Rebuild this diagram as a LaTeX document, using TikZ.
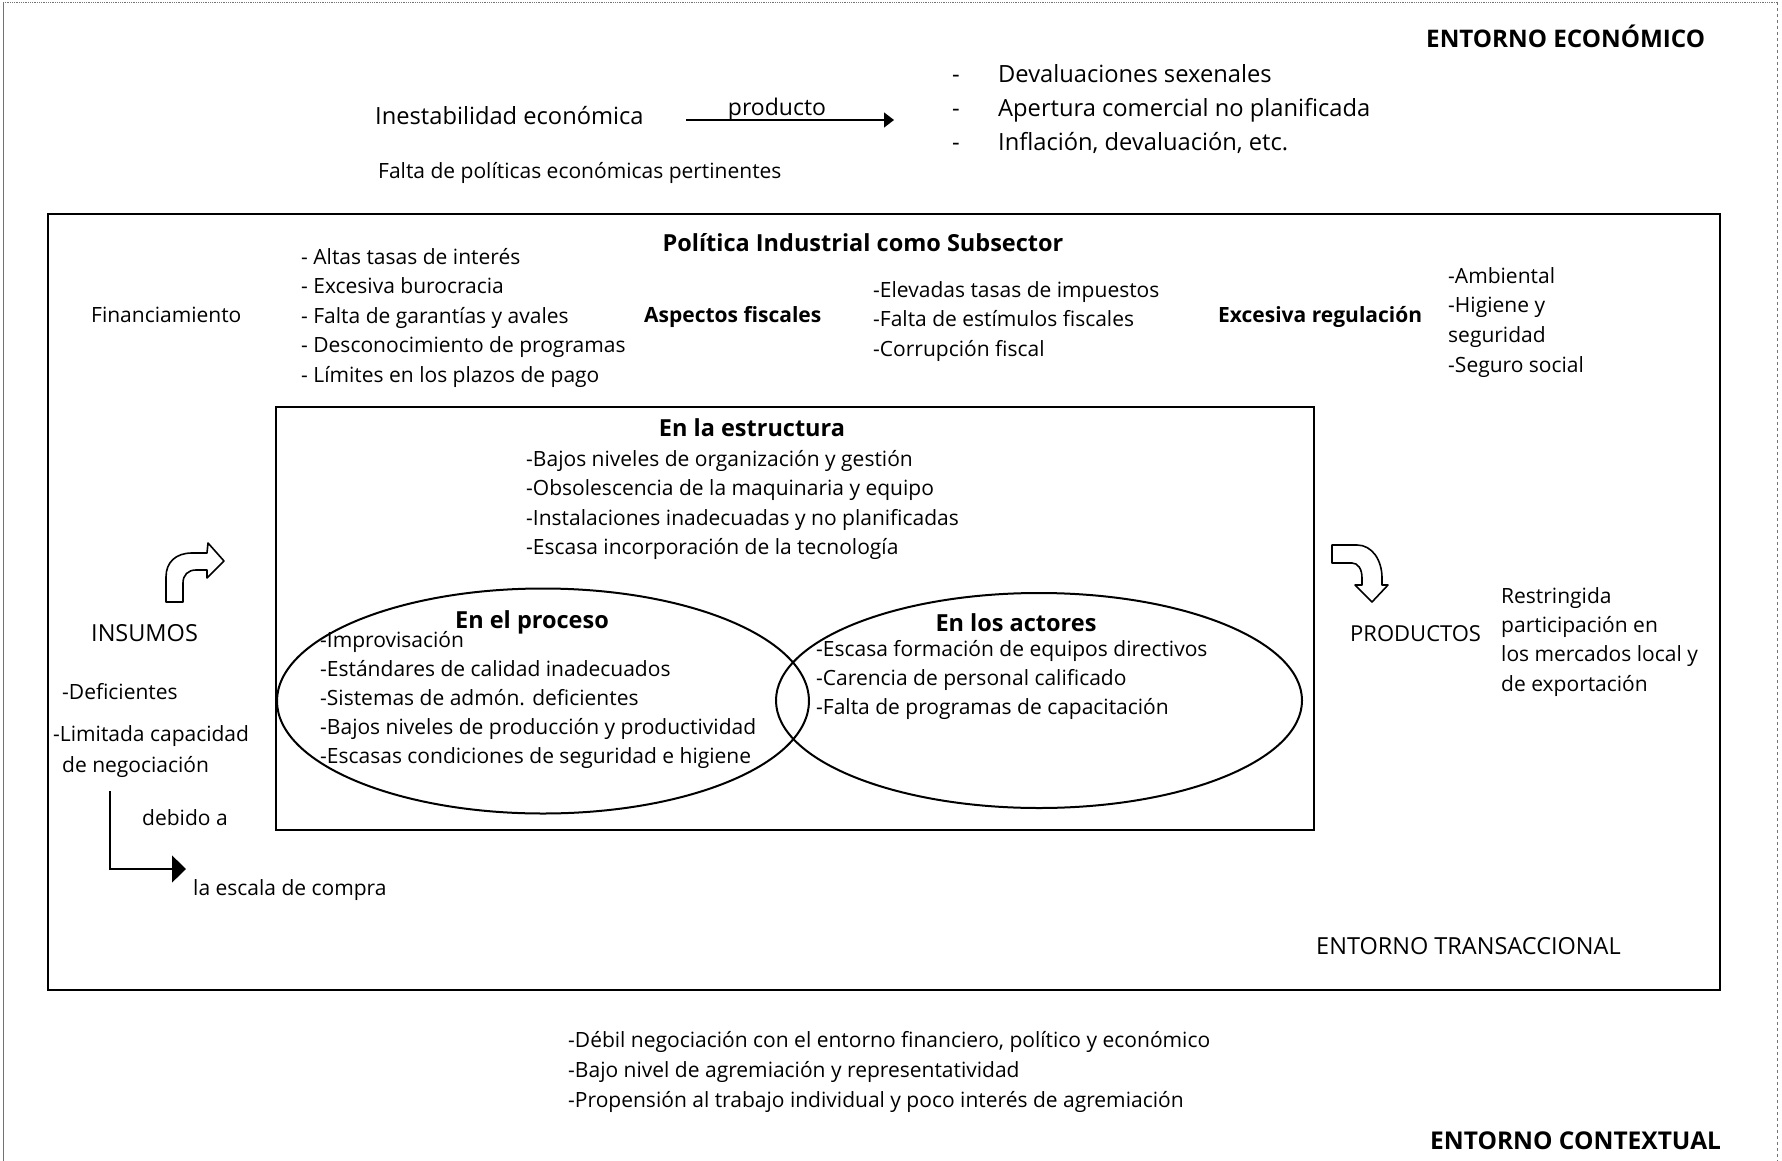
\documentclass[tikz,border=0pt]{standalone}
\usepackage{fontspec}
\setmainfont{Open Sans}
\usetikzlibrary{arrows.meta,shapes.geometric}

\begin{document}
\begin{tikzpicture}[x=1pt,y=-1pt,
  lbl/.style={anchor=base west, inner sep=0pt, font=\fontsize{21}{25}\selectfont},
  blbl/.style={anchor=base west, inner sep=0pt, font=\bfseries\fontsize{21}{25}\selectfont},
  big/.style={anchor=base west, inner sep=0pt, font=\fontsize{23.7}{28}\selectfont},
  envlbl/.style={anchor=base west, inner sep=0pt, font=\fontsize{23.5}{28}\selectfont},
  benvlbl/.style={anchor=base west, inner sep=0pt, font=\bfseries\fontsize{24.2}{28}\selectfont},
  head/.style={anchor=base, inner sep=0pt, font=\bfseries\fontsize{23.5}{28}\selectfont},
  boxst/.style={draw, line width=2.4pt, inner sep=0pt, outer sep=0pt},
  ellst/.style={draw, ellipse, line width=2pt, inner sep=0pt, outer sep=0pt},
  blockarrow/.style={draw, line width=1.6pt, fill=white, line join=round},
  thinframe/.style={line width=0.8pt, black!55},
]
\useasboundingbox (0,0) rectangle (1782,1161);

% page frame
\draw[thinframe] (3,1161) -- (3,2);
\draw[thinframe, densely dotted] (3,2) -- (1777,2);
\draw[thinframe, dashed] (1777,2) -- (1777,1161);

% ---------------- economic environment ----------------
\node[benvlbl] (econ) at (1426,48) {ENTORNO ECONÓMICO};
\node[big] (inest) at (375,125) {Inestabilidad económica};
\node[lbl] (falta) at (378,179) {Falta de políticas económicas pertinentes};
\coordinate (pa) at (686,120);
\coordinate (pb) at (894,120);
\draw[line width=1.3pt, -{Triangle[length=10pt,width=15pt]}] (pa) -- (pb);
\node[anchor=base, inner sep=0pt, font=\fontsize{23}{27}\selectfont] (prodlbl) at (777,116) {producto};
\foreach \t [count=\i] in {Devaluaciones sexenales, Apertura comercial no planificada, {Inflación, devaluación, etc.}} {
  \node[big] (ecd\i) at (952,{83+34*(\i-1)}) {-};
  \node[big] (ec\i) at (998,{83+34*(\i-1)}) {\t};
}

% ---------------- transactional environment ----------------
\node[boxst, minimum width=1672pt, minimum height=776pt] (transbox) at (884,602) {};
\node[head] (politica) at (863,251) {Política Industrial como Subsector};

\node[lbl] (financ) at (91,322) {Financiamiento};
\foreach \t [count=\i] in {Altas tasas de interés, Excesiva burocracia, Falta de garantías y avales, Desconocimiento de programas, Límites en los plazos de pago} {
  \node[lbl] (fin\i) at (301,{264+29.5*(\i-1)}) {- \t};
}

\node[blbl] (fiscal) at (644,322) {Aspectos fiscales};
\foreach \t [count=\i] in {Elevadas tasas de impuestos, Falta de estímulos fiscales, Corrupción fiscal} {
  \node[lbl] (fis\i) at (873,{297+29.5*(\i-1)}) {-\t};
}

\node[blbl] (regul) at (1218,322) {Excesiva regulación};
\foreach \t [count=\i] in {-Ambiental, -Higiene y, seguridad, -Seguro social} {
  \node[lbl] (reg\i) at (1448,{283+29.7*(\i-1)}) {\t};
}

% inner box: the firm
\node[boxst, minimum width=1038pt, minimum height=423pt] (firmbox) at (795,618.5) {};
\node[head] (estruct) at (752,436) {En la estructura};
\foreach \t [count=\i] in {Bajos niveles de organización y gestión, Obsolescencia de la maquinaria y equipo, Instalaciones inadecuadas y no planificadas, Escasa incorporación de la tecnología} {
  \node[lbl] (est\i) at (526,{466+29.6*(\i-1)}) {-\t};
}

\node[ellst, minimum width=532pt, minimum height=225pt] (procell) at (543,701) {};
\node[ellst, minimum width=526pt, minimum height=215pt] (actell) at (1039,700.5) {};

\node[head] (proc) at (532,628) {En el proceso};
\foreach \t [count=\i] in {Improvisación, Estándares de calidad inadecuados, Sistemas de admón. deficientes, Bajos niveles de producción y productividad, Escasas condiciones de seguridad e higiene} {
  \node[lbl] (pro\i) at (320,{647+29*(\i-1)}) {-\t};
}

\node[head] (actores) at (1016,631) {En los actores};
\foreach \t [count=\i] in {Escasa formación de equipos directivos, Carencia de personal calificado, Falta de programas de capacitación} {
  \node[lbl] (act\i) at (816,{656+29*(\i-1)}) {-\t};
}

% inputs
\draw[blockarrow] (166,602) -- (166,577) .. controls (166,562) and (176,553) .. (192,553)
  -- (207,553) -- (208,543) -- (224,561) -- (207,578) -- (207,570) -- (196,570)
  .. controls (188,570) and (183,575) .. (183,583) -- (183,602) -- cycle;
\node[envlbl] (insumos) at (91,641) {INSUMOS};
\node[lbl] (defic) at (62,699) {-Deficientes};
\node[lbl] (limit1) at (53,741) {-Limitada capacidad};
\node[lbl] (limit2) at (62,772) {de negociación};
\coordinate (d1) at (110,791);
\coordinate (d2) at (186,869);
\draw[line width=1.2pt, -{Triangle[length=14pt,width=27pt]}] (d1) |- (d2);
\node[lbl] (debido) at (142,825) {debido a};
\node[lbl] (escala) at (193,895) {la escala de compra};

% outputs
\draw[blockarrow] (1332,545) -- (1357,545) .. controls (1372,545) and (1382,560) .. (1382,578)
  -- (1382,585) -- (1388,585) -- (1372,602) -- (1355,585) -- (1362,585) -- (1362,578)
  .. controls (1362,569) and (1358,563) .. (1352,563) -- (1332,563) -- cycle;
\node[envlbl, font=\fontsize{22}{26}\selectfont] (productos) at (1350,641) {PRODUCTOS};
\foreach \t [count=\i] in {Restringida, participación en, los mercados local y, de exportación} {
  \node[lbl] (res\i) at (1501,{603+29.4*(\i-1)}) {\t};
}

\node[envlbl] (transac) at (1316,954) {ENTORNO TRANSACCIONAL};

% ---------------- contextual environment ----------------
\foreach \t [count=\i] in {{-Débil negociación con el entorno financiero, político y económico}, -Bajo nivel de agremiación y representatividad, -Propensión al trabajo individual y poco interés de agremiación} {
  \node[lbl] (ctx\i) at (568,{1047+30*(\i-1)}) {\t};
}
\node[benvlbl, font=\bfseries\fontsize{24.5}{28}\selectfont] (context) at (1430,1149) {ENTORNO CONTEXTUAL};
\end{tikzpicture}
\end{document}
